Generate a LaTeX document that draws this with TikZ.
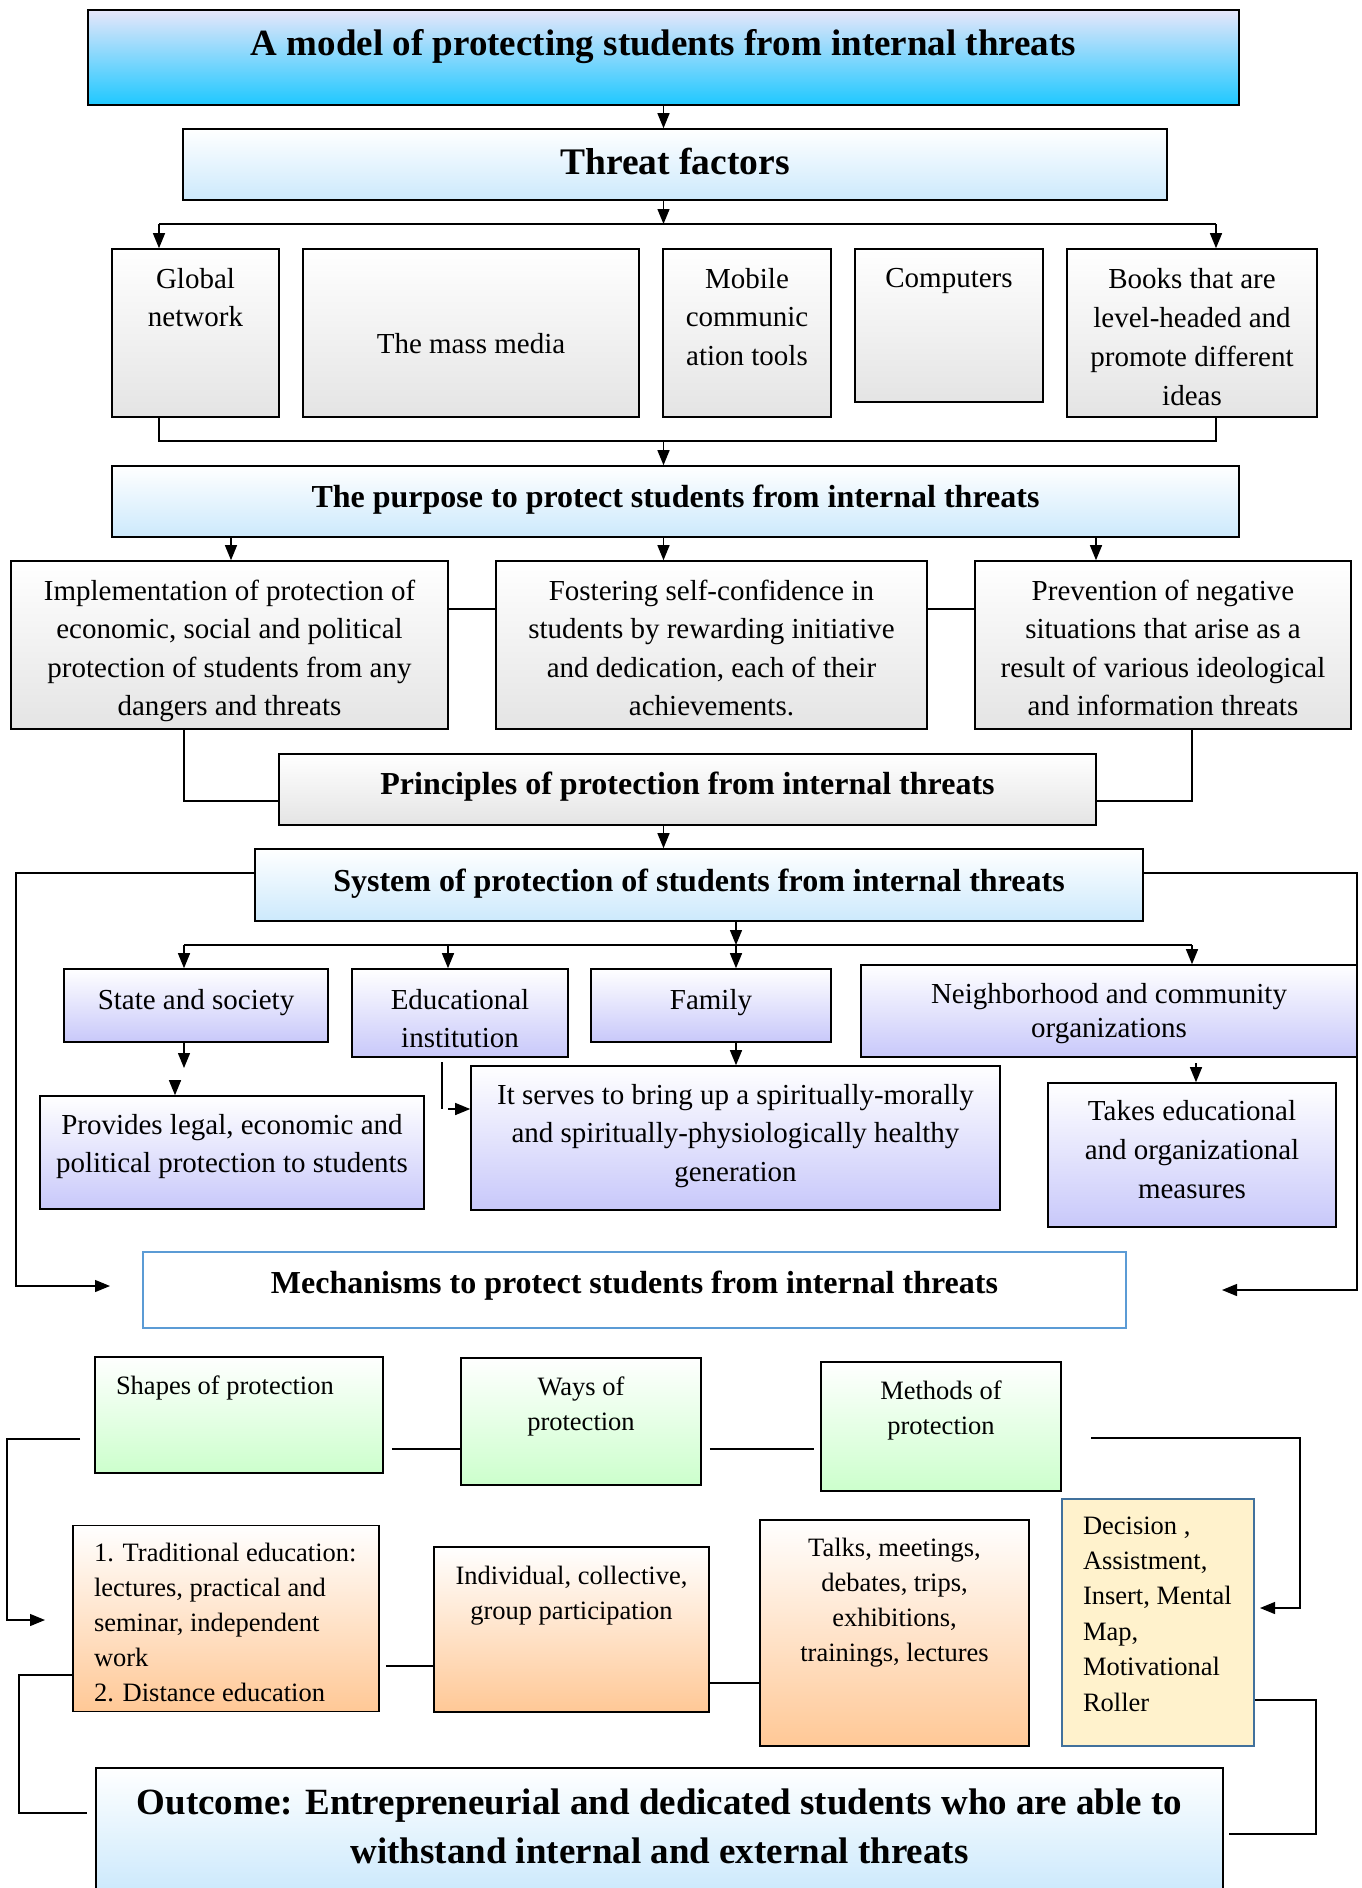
\documentclass[tikz,border=0pt]{standalone}
\usepackage{fontspec}
\setmainfont{Liberation Serif}
\usetikzlibrary{arrows.meta}
\definecolor{lavtop}{RGB}{230,230,250}
\definecolor{cyanbot}{RGB}{30,200,255}
\definecolor{skybot}{RGB}{204,233,252}
\definecolor{greybot}{RGB}{228,228,228}
\definecolor{lilacbot}{RGB}{200,200,250}
\definecolor{mintbot}{RGB}{204,255,204}
\definecolor{peachbot}{RGB}{255,200,150}
\definecolor{creamfill}{RGB}{255,242,204}
\definecolor{steelline}{RGB}{65,113,156}
\definecolor{mechline}{RGB}{91,155,213}
\newcommand{\topbox}[4][19pt]{\parbox[c][#3][t]{#2}{\centering\vspace*{#1}#4\par}}

\begin{document}
\begin{tikzpicture}[x=1pt, y=-1pt,
    box/.style={draw=black, line width=1.6pt, inner sep=0pt, font=\fontsize{29}{38.5}\selectfont},
    headbox/.style={box, top color=white, bottom color=skybot, font=\bfseries\fontsize{32}{40}\selectfont},
    greybox/.style={box, top color=white, bottom color=greybot},
    lilacbox/.style={box, top color=white, bottom color=lilacbot},
    mintbox/.style={box, top color=white, bottom color=mintbot, font=\fontsize{26.5}{35}\selectfont},
    peachbox/.style={box, top color=white, bottom color=peachbot, font=\fontsize{26.5}{35}\selectfont},
    link/.style={line width=1.3pt},
    arr/.style={link, -{Triangle[length=15pt,width=12pt]}}]
    \path[use as bounding box] (0,0) rectangle (1362,1888);
    \clip (0,0) rectangle (1362,1888);

    \node[box, top color=lavtop, bottom color=cyanbot, font=\bfseries\fontsize{37}{45}\selectfont] (model) at (663.5,57.5) {\topbox{1151pt}{95pt}{A model of protecting students from internal threats}};
    \node[headbox, font=\bfseries\fontsize{37.5}{45}\selectfont] (threats) at (675,164.5) {\topbox{984pt}{71pt}{Threat factors}};

    \node[greybox] (globnet) at (195.5,333) {\topbox{167pt}{168pt}{Global\\network}};
    \node[greybox] (massmedia) at (471,333) {\topbox[84pt]{336pt}{168pt}{The mass media}};
    \node[greybox] (mobile) at (747,333) {\topbox{168pt}{168pt}{Mobile\\communic\\ation tools}};
    \node[greybox] (computers) at (949,325.5) {\topbox{188pt}{153pt}{Computers}};
    \node[greybox, font=\fontsize{29}{39}\selectfont] (books) at (1192,333) {\topbox{250pt}{168pt}{Books that are\\level-headed and\\promote different\\ideas}};

    \node[headbox] (purpose) at (675.5,501.5) {\topbox{1127pt}{71pt}{The purpose to protect students from internal threats}};

    \node[greybox] (implement) at (229.5,645) {\topbox{437pt}{168pt}{Implementation of protection of\\economic, social and political\\protection of students from any\\dangers and threats}};
    \node[greybox] (foster) at (711.5,645) {\topbox{431pt}{168pt}{Fostering self-confidence in\\students by rewarding initiative\\and dedication, each of their\\achievements.}};
    \node[greybox] (prevent) at (1163,645) {\topbox{376pt}{168pt}{Prevention of negative\\situations that arise as a\\result of various ideological\\and information threats}};

    \node[greybox, font=\bfseries\fontsize{32}{40}\selectfont] (principles) at (687.5,789.5) {\topbox[18pt]{817pt}{71pt}{Principles of protection from internal threats}};
    \node[headbox] (system) at (699,885) {\topbox[19.5pt]{888pt}{72pt}{System of protection of students from internal threats}};

    \node[lilacbox] (state) at (196,1005.5) {\topbox[20pt]{264pt}{73pt}{State and society}};
    \node[lilacbox] (school) at (460,1013) {\topbox[20pt]{216pt}{88pt}{Educational\\institution}};
    \node[lilacbox] (family) at (711,1005.5) {\topbox[20pt]{240pt}{73pt}{Family}};
    \node[lilacbox, font=\fontsize{29}{34}\selectfont] (neighbour) at (1109,1011) {\topbox[18pt]{496pt}{92pt}{Neighborhood and community\\organizations}};

    \node[lilacbox] (provides) at (232,1152.5) {\topbox[18pt]{384pt}{113pt}{Provides legal, economic and\\political protection to students}};
    \node[lilacbox] (serves) at (735.5,1138) {\topbox[18pt]{529pt}{144pt}{It serves to bring up a spiritually-morally\\and spiritually-physiologically healthy\\generation}};
    \node[lilacbox, font=\fontsize{29}{39}\selectfont] (takes) at (1192,1155) {\topbox[17pt]{288pt}{144pt}{Takes educational\\and organizational\\measures}};

    \node[box, draw=mechline, fill=white, font=\bfseries\fontsize{32}{40}\selectfont] (mechanisms) at (634.5,1290) {\topbox{983pt}{76pt}{Mechanisms to protect students from internal threats}};

    \node[mintbox] (shapes) at (239,1415) {\topbox{288pt}{116pt}{\raggedright\leftskip=21pt Shapes of protection}};
    \node[mintbox] (ways) at (581,1421.5) {\topbox{240pt}{127pt}{Ways of\\protection}};
    \node[mintbox] (methods) at (941,1426.5) {\topbox[18.5pt]{240pt}{129pt}{Methods of\\protection}};

    \node[peachbox] (traditional) at (226,1618.5) {\topbox[18pt]{306pt}{186pt}{\raggedright\leftskip=21pt 1. Traditional education:\\lectures, practical and\\seminar, independent\\work\\2. Distance education}};
    \node[peachbox] (individual) at (571.5,1629.5) {\topbox{275pt}{165pt}{Individual, collective,\\group participation}};
    \node[peachbox] (talks) at (894.5,1633) {\topbox[18pt]{269pt}{226pt}{Talks, meetings,\\debates, trips,\\exhibitions,\\trainings, lectures}};
    \node[box, draw=steelline, fill=creamfill, font=\fontsize{26.5}{35.4}\selectfont] (decision) at (1158,1622.5) {\topbox[17.5pt]{192pt}{247pt}{\raggedright\leftskip=21pt Decision ,\\Assistment,\\Insert, Mental\\Map,\\Motivational\\Roller}};

    \node[headbox, font=\bfseries\fontsize{37}{49}\selectfont] (outcome) at (659.5,1830) {\topbox[21pt]{1127pt}{124pt}{Outcome: Entrepreneurial and dedicated students who are able to\\withstand internal and external threats}};

    \draw[arr] (model.south) -- (model.south |- threats.north);
    \coordinate (fork1) at (663.5,224);
    \coordinate (forkL) at (159,224);
    \coordinate (forkR) at (1216,224);
    \draw[arr] (fork1 |- threats.south) -- (fork1);
    \draw[link] (forkL) -- (forkR);
    \draw[arr] (forkL) -- (forkL |- globnet.north);
    \draw[arr] (forkR) -- (forkR |- books.north);

    \coordinate (joinL) at (159,441);
    \coordinate (joinR) at (1216,441);
    \draw[link] (joinL |- globnet.south) -- (joinL) -- (joinR) -- (joinR |- books.south);
    \draw[arr] (fork1 |- joinL) -- (fork1 |- purpose.north);

    \foreach \x/\n in {231/implement, 663.5/foster, 1096/prevent}
        \draw[arr] (\x,0 |- purpose.south) -- (\x,0 |- \n.north);
    \draw[link] (implement.east |- 0,609) -- (foster.west |- 0,609);
    \draw[link] (foster.east |- 0,609) -- (prevent.west |- 0,609);
    \draw[link] (184,0 |- implement.south) |- (principles.west |- 0,801);
    \draw[link] (1192,0 |- prevent.south) |- (principles.east |- 0,801);
    \draw[arr] (663.5,0 |- principles.south) -- (663.5,0 |- system.north);

    \coordinate (loopL) at (110,1286);
    \coordinate (loopR) at (1222,1290);
    \draw[arr] (system.west |- 0,873) -| (16,0 |- loopL) -- (loopL);
    \draw[arr] (system.east |- 0,873) -| (1357,0 |- loopR) -- (loopR);

    \coordinate (fork2) at (736,945);
    \draw[arr] (fork2 |- system.south) -- (fork2);
    \draw[link] (184,945) -- (1192,945);
    \foreach \x/\n in {184/state, 448/school, 736/family, 1192/neighbour}
        \draw[arr] (\x,945) -- (\x,0 |- \n.north);

    \coordinate (stateend) at (184,1068);
    \coordinate (provtip) at (175,1084);
    \draw[arr] (184,0 |- state.south) -- (stateend);
    \draw[arr] (provtip) -- (provtip |- provides.north);
    \coordinate (schoolout) at (442,1062);
    \coordinate (schoolin) at (448,1109);
    \draw[link] (schoolout) -- (schoolout |- schoolin);
    \draw[arr] (schoolin) -- (serves.west |- schoolin);
    \draw[arr] (736,0 |- family.south) -- (736,0 |- serves.north);
    \coordinate (neighout) at (1196,1063);
    \draw[arr] (neighout) -- (neighout |- takes.north);

    \draw[link, shorten <=8pt] (shapes.east |- 0,1449) -- (ways.west |- 0,1449);
    \draw[link, shorten <=8pt, shorten >=6pt] (ways.east |- 0,1449) -- (methods.west |- 0,1449);
    \coordinate (shapesout) at (80,1439);
    \coordinate (tradin) at (45,1620);
    \draw[arr] (shapesout) -| (7,0 |- tradin) -- (tradin);
    \coordinate (methodsout) at (1091,1438);
    \coordinate (decin) at (1260,1608);
    \draw[arr] (methodsout) -| (1300,0 |- decin) -- (decin);

    \draw[link, shorten <=6pt] (traditional.east |- 0,1666) -- (individual.west |- 0,1666);
    \draw[link] (individual.east |- 0,1683) -- (talks.west |- 0,1683);
    \coordinate (outL) at (87,1813);
    \coordinate (outR) at (1229,1834);
    \draw[link] (traditional.west |- 0,1675) -| (19,0 |- outL) -- (outL);
    \draw[link] (decision.east |- 0,1700) -| (1316,0 |- outR) -- (outR);
\end{tikzpicture}
\end{document}
